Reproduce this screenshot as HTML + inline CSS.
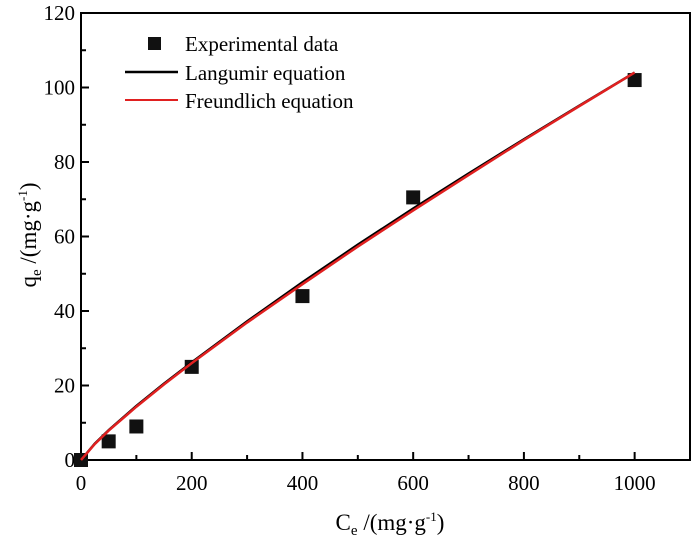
<!DOCTYPE html>
<html><head><meta charset="utf-8"><style>
body{margin:0;background:#fff}
svg{font-family:"Liberation Serif",serif}
</style></head><body>
<svg width="700" height="545" id="c">
<g id="g"></g>
</svg>
<script>
const xTicks=[0,200,400,600,800,1000];
const yTicks=[0,20,40,60,80,100,120];
const expC=[0,50,100,200,400,600,1000];
const expQ=[0,5,9,25,44,70.5,102];
const fitC=[0,25,50,100,150,200,300,400,500,600,700,800,900,1000];
const langQ=[0,4.4,8.0,14.5,20.5,26.2,37.2,47.7,57.8,67.5,76.9,86.1,95.1,104];
const freuQ=[0,4.3,7.9,14.3,20.3,26.0,36.9,47.2,57.3,67.0,76.5,85.9,95.0,104];
const L=81,R=690,T=13,B=460,XMAX=1100,YMAX=120;
const X=v=>L+v/XMAX*(R-L), Y=v=>B-v/YMAX*(B-T);
const NS="http://www.w3.org/2000/svg";
const g=document.getElementById('g');
function mk(t,a,p){const e=document.createElementNS(NS,t);for(const k in a)e.setAttribute(k,a[k]);(p||g).appendChild(e);return e;}
let e=mk('rect',{x:L,y:T,width:R-L,height:B-T,fill:'none',stroke:'#000','stroke-width':2});

xTicks.forEach(v=>{mk('line',{x1:X(v),x2:X(v),y1:B,y2:B-8,stroke:'#000','stroke-width':2});
 const t=mk('text',{x:X(v),y:B+30,'font-size':21,'text-anchor':'middle'});t.textContent=v;
 });
for(let v=100;v<XMAX;v+=200)mk('line',{x1:X(v),x2:X(v),y1:B,y2:B-5,stroke:'#000','stroke-width':2});
yTicks.forEach(v=>{mk('line',{x1:L,x2:L+8,y1:Y(v),y2:Y(v),stroke:'#000','stroke-width':2});
 const t=mk('text',{x:L-6,y:Y(v)+7,'font-size':21,'text-anchor':'end'});t.textContent=v;
 });
for(let v=10;v<YMAX;v+=20)mk('line',{x1:L,x2:L+5,y1:Y(v),y2:Y(v),stroke:'#000','stroke-width':2});
function line(q,c,n){const p=mk('polyline',{points:fitC.map((x,i)=>X(x)+','+Y(q[i])).join(' '),fill:'none',stroke:c,'stroke-width':2.5});
 }
expC.forEach((c,i)=>{const r=mk('rect',{x:X(c)-7,y:Y(expQ[i])-7,width:14,height:14,fill:'#111'});
 });
line(langQ,'#000','langmuir-line');
line(freuQ,'#e02020','freundlich-line');
const lg=mk('g',{});
mk('rect',{x:148,y:37,width:13,height:13,fill:'#111'},lg);
mk('line',{x1:125,x2:178,y1:72,y2:72,stroke:'#000','stroke-width':2.5},lg);
mk('line',{x1:125,x2:178,y1:100,y2:100,stroke:'#e02020','stroke-width':2},lg);
[['Experimental data',51],['Langumir equation',80],['Freundlich equation',108]].forEach(a=>{const t=mk('text',{x:185,y:a[1],'font-size':21},lg);t.textContent=a[0];
 });
let xt=mk('text',{x:390,y:530,'font-size':23,'text-anchor':'middle'});
xt.innerHTML='C<tspan font-size="15" dy="5">e</tspan><tspan dy="-5"> /(mg·g</tspan><tspan font-size="13" dy="-9">-1</tspan><tspan dy="9">)</tspan>';

let yt=mk('text',{transform:'translate(36,235) rotate(-90)','font-size':23,'text-anchor':'middle'});
yt.innerHTML='q<tspan font-size="15" dy="5">e</tspan><tspan dy="-5"> /(mg·g</tspan><tspan font-size="13" dy="-9">-1</tspan><tspan dy="9">)</tspan>';

</script>
</body></html>
